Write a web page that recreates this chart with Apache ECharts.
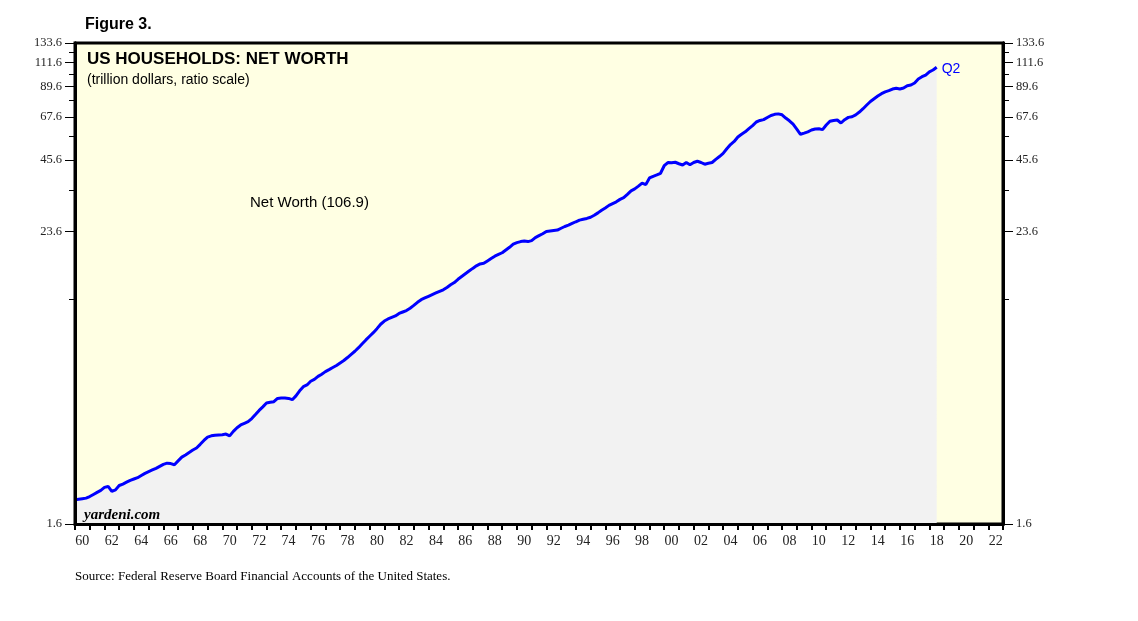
<!DOCTYPE html>
<html>
<head>
<meta charset="utf-8">
<script src="https://cdn.jsdelivr.net/npm/echarts@6/dist/echarts.min.js"></script>
<style>html,body{margin:0;padding:0;background:#fff;}#c{width:1138px;height:621px;}</style>
</head>
<body>
<div id="c"></div>
<script>
// Quarterly household net worth (trillion $), first value = 1959 Q4, last = 2018 Q2
const startYear = 1959, startQuarter = 4;
const netWorth = [
  2.00,
  2.01, 2.02, 2.03, 2.06,   // 1960
  2.10, 2.14, 2.18, 2.24,   // 1961
  2.26, 2.16, 2.19, 2.28,   // 1962
  2.31, 2.35, 2.39, 2.42,   // 1963
  2.45, 2.50, 2.55, 2.59,   // 1964
  2.63, 2.67, 2.72, 2.77,   // 1965
  2.80, 2.79, 2.76, 2.86,   // 1966
  2.96, 3.02, 3.09, 3.16,   // 1967
  3.22, 3.33, 3.45, 3.56,   // 1968
  3.60, 3.62, 3.63, 3.64,   // 1969
  3.66, 3.60, 3.75, 3.88,   // 1970
  3.98, 4.04, 4.10, 4.22,   // 1971
  4.38, 4.55, 4.70, 4.87,   // 1972
  4.90, 4.93, 5.08, 5.10,   // 1973
  5.10, 5.08, 5.02, 5.20,   // 1974
  5.45, 5.66, 5.75, 5.95,   // 1975
  6.05, 6.22, 6.35, 6.50,   // 1976
  6.62, 6.75, 6.88, 7.04,   // 1977
  7.20, 7.40, 7.62, 7.84,   // 1978
  8.10, 8.40, 8.70, 9.00,   // 1979
  9.30, 9.65, 10.05, 10.35, // 1980
  10.55, 10.70, 10.85, 11.10, // 1981
  11.25, 11.40, 11.65, 11.95, // 1982
  12.30, 12.60, 12.80, 13.00, // 1983
  13.20, 13.40, 13.60, 13.80, // 1984
  14.10, 14.45, 14.75, 15.20, // 1985
  15.60, 16.00, 16.40, 16.80, // 1986
  17.20, 17.50, 17.60, 18.00, // 1987
  18.40, 18.80, 19.10, 19.40, // 1988
  19.90, 20.40, 21.00, 21.30, // 1989
  21.50, 21.60, 21.50, 21.70, // 1990
  22.30, 22.70, 23.10, 23.60, // 1991
  23.70, 23.80, 23.90, 24.30, // 1992
  24.70, 25.00, 25.40, 25.80, // 1993
  26.20, 26.40, 26.60, 26.90, // 1994
  27.40, 28.00, 28.70, 29.30, // 1995
  30.00, 30.50, 31.00, 31.70, // 1996
  32.20, 33.20, 34.30, 34.90, // 1997
  35.80, 36.80, 36.30, 38.60, // 1998
  39.20, 39.70, 40.30, 43.20, // 1999
  44.50, 44.40, 44.60, 44.00, // 2000
  43.50, 44.50, 43.60, 44.50, // 2001
  45.00, 44.50, 43.80, 44.20, // 2002
  44.50, 45.80, 47.00, 48.40, // 2003
  50.50, 52.50, 54.00, 56.30, // 2004
  57.70, 59.00, 60.80, 62.50, // 2005
  64.60, 65.50, 66.00, 67.30, // 2006
  68.60, 69.30, 69.60, 69.00, // 2007
  67.00, 65.30, 63.30, 60.50, // 2008
  57.70, 58.30, 59.00, 60.00, // 2009
  60.60, 60.70, 60.20, 62.80, // 2010
  65.00, 65.50, 65.80, 64.00, // 2011
  66.00, 67.40, 67.80, 69.00, // 2012
  70.80, 73.00, 75.50, 78.00, // 2013
  80.00, 82.00, 83.80, 85.20, // 2014
  86.20, 87.50, 88.10, 87.50, // 2015
  88.30, 90.20, 90.80, 92.50, // 2016
  96.00, 98.00, 99.50, 102.50, // 2017
  104.20, 106.90             // 2018
];
const yearCategories = [];
for (let y = 1960; y <= 2022; y++) yearCategories.push(String(y));
const yLabelValues = [1.6, 23.6, 45.6, 67.6, 89.6, 111.6, 133.6];
const yMinorValues = [12.6, 34.6, 56.6, 78.6, 100.6, 122.6];
const lastLabel = 'Q2';
const seriesName = 'Net Worth (106.9)';

// Build [time, value] pairs; quarter plotted at its end
const seriesData = netWorth.map((v, i) => {
  const q = startQuarter + i;
  return [startYear + q / 4, v];
});

const chart = echarts.init(document.getElementById('c'), null, {renderer: 'canvas'});
const serif = '"Liberation Serif","Times New Roman",serif';
const sans = '"Liberation Sans",Arial,sans-serif';

function yAx(pos, labels, major) {
  return {
    type: 'log', logBase: 10, min: 1.6, max: 133.6, position: pos, z: 5,
    axisLine: {show: true, lineStyle: {color: '#000', width: 3}},
    axisTick: {show: true, inside: false, length: major ? 10 : 6, customValues: major ? yLabelValues : yMinorValues,
      lineStyle: {color: '#000', width: 1}},
    axisLabel: {show: labels, customValues: yLabelValues, margin: major ? 13 : 0,
      fontFamily: serif, fontSize: 12.5, color: '#222', formatter: v => (+v).toFixed(1)},
    splitLine: {show: false}, minorTick: {show: false}, minorSplitLine: {show: false}
  };
}

chart.setOption({
  animation: false,
  grid: {left: 75, right: 135, top: 43, bottom: 97, show: true, backgroundColor: '#FFFFE3', borderColor: '#000', borderWidth: 3, containLabel: false},
  xAxis: [
    {type: 'value', min: 1960, max: 2023, show: false},
    {type: 'category', data: yearCategories, boundaryGap: true, position: 'bottom', z: 5,
      axisLine: {show: true, lineStyle: {color: '#000', width: 3}},
      axisTick: {show: true, interval: 0, length: 6, alignWithLabel: false, lineStyle: {color: '#000', width: 2}},
      axisLabel: {interval: 1, margin: 10, fontFamily: serif, fontSize: 14, color: '#222', formatter: v => v.slice(2)},
      splitLine: {show: false}}
  ],
  yAxis: [yAx('left', true, true), yAx('left', false, false), yAx('right', true, true), yAx('right', false, false)],
  series: [{
    type: 'line', name: seriesName, xAxisIndex: 0, yAxisIndex: 0, data: seriesData,
    showSymbol: false, symbol: 'none', smooth: false,
    lineStyle: {color: '#0000FF', width: 3},
    areaStyle: {color: '#F2F2F2', opacity: 1, origin: 'start'},
    endLabel: {show: true, formatter: lastLabel, color: '#0000FF', fontFamily: sans, fontSize: 14, distance: 5, offset: [0, 2]},
    z: 3
  }],
  graphic: [
    {type: 'text', left: 85, top: 17, style: {text: 'Figure 3.', font: 'bold 16px ' + sans, fill: '#000'}},
    {type: 'text', left: 87, top: 51, z: 10, style: {text: 'US HOUSEHOLDS: NET WORTH', font: 'bold 17px ' + sans, fill: '#000'}},
    {type: 'text', left: 87, top: 73, z: 10, style: {text: '(trillion dollars, ratio scale)', font: '14px ' + sans, fill: '#000'}},
    {type: 'text', left: 250, top: 195, z: 10, style: {text: seriesName, font: '15px ' + sans, fill: '#000'}},
    {type: 'text', left: 84, top: 508, z: 10, style: {text: 'yardeni.com', font: 'italic bold 15px ' + serif, fill: '#000'}},
    {type: 'text', left: 75, top: 570, style: {text: 'Source: Federal Reserve Board Financial Accounts of the United States.', font: '13px ' + serif, fill: '#000'}}
  ]
});
</script>
</body>
</html>
